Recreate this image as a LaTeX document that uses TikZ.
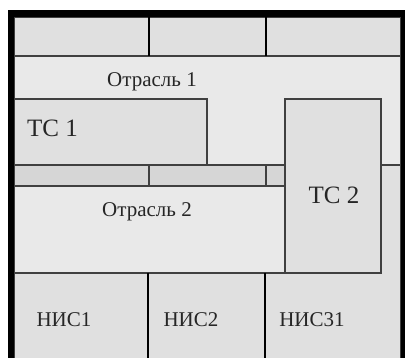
\documentclass[tikz,border=0pt]{standalone}
\usepackage{fontspec}
\setmainfont{Liberation Serif}
\definecolor{cellgray}{HTML}{E0E0E0}
\definecolor{branchgray}{HTML}{E9E9E9}
\definecolor{stripgray}{HTML}{D6D6D6}
\definecolor{linegray}{HTML}{404040}

\begin{document}
\begin{tikzpicture}[x=1pt,y=-1pt,
    cell/.style={fill=cellgray,draw=linegray,line width=1.2pt},
    branch/.style={fill=branchgray,draw=linegray,line width=1.2pt},
    strip/.style={fill=stripgray,draw=linegray,line width=1.2pt},
    divider/.style={draw=black,line width=2pt},
    every node/.style={text=black!85,inner sep=0pt}]
    \useasboundingbox (0,0) rectangle (405,358);
    \clip (0,0) rectangle (405,358);
    \fill[white] (0,0) rectangle (405,358);
    % top row
    \draw[cell] (14,17) rectangle (149,56);
    \draw[cell] (149,17) rectangle (266,56);
    \draw[cell] (266,17) rectangle (401,56);
    \draw[branch] (14,56) rectangle (401,165);
    \draw[cell] (14,99) rectangle (207,165);
    \draw[strip] (14,165) rectangle (149,186);
    \draw[strip] (149,165) rectangle (266,186);
    \draw[strip] (266,165) rectangle (285,186);
    \draw[cell] (285,165) rectangle (401,273);
    % bottom row
    \draw[cell] (14,273) rectangle (148,362);
    \draw[cell] (148,273) rectangle (265,362);
    \draw[cell] (265,273) rectangle (401,362);
    \fill[cellgray] (382,166) rectangle (400,275);
    \draw[branch] (14,186) rectangle (285,273);
    \draw[cell] (285,99) rectangle (381,273);
    \foreach \x in {149,266}
        \draw[divider] (\x,17) -- (\x,56);
    \foreach \x in {148,265}
        \draw[divider] (\x,273) -- (\x,362);
    \draw[line width=6.5pt] (11,13.5) rectangle (404,370);
    % labels
    \node (br1) at (152,82) {\fontsize{21}{24}\selectfont Отрасль 1};
    \node[anchor=west] (ts1) at (27,128) {\fontsize{25}{28}\selectfont ТС 1};
    \node (ts2) at (334,195) {\fontsize{25}{28}\selectfont ТС 2};
    \node (br2) at (147,212) {\fontsize{21}{24}\selectfont Отрасль 2};
    \node (nis1) at (64,320) {\fontsize{21}{24}\selectfont НИС1};
    \node (nis2) at (191,320) {\fontsize{21}{24}\selectfont НИС2};
    \node (nis31) at (312,320) {\fontsize{21}{24}\selectfont НИС31};
\end{tikzpicture}
\end{document}
